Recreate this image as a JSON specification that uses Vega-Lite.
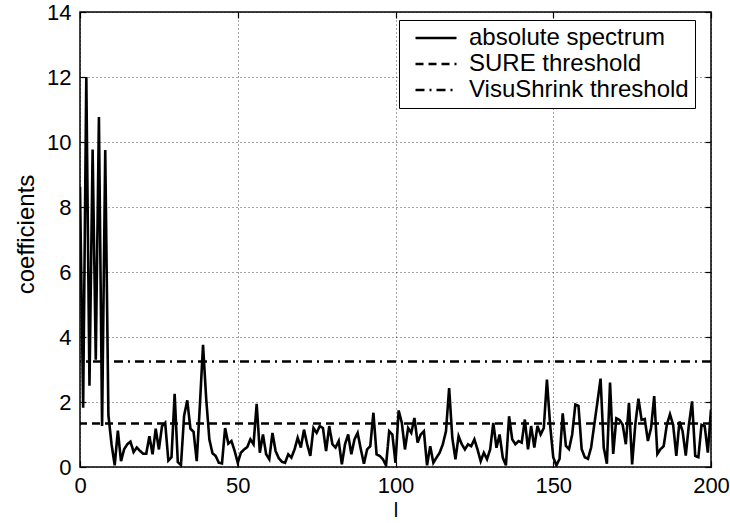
{
  "$schema": "https://vega.github.io/schema/vega-lite/v6.json",
  "width": 631,
  "height": 455,
  "autosize": {"type": "none"},
  "padding": {"left": 80, "top": 12, "right": 19, "bottom": 56},
  "background": "white",
  "datasets": {
    "spectrum": [
      {"l":0,"coefficient":8.62},{"l":1,"coefficient":1.82},{"l":2,"coefficient":12.0},{"l":3,"coefficient":2.5},{"l":4,"coefficient":9.77},
      {"l":5,"coefficient":3.3},{"l":6,"coefficient":10.77},{"l":7,"coefficient":1.26},{"l":8,"coefficient":9.75},{"l":9,"coefficient":1.6},
      {"l":10,"coefficient":0.7},{"l":11,"coefficient":0.05},{"l":12,"coefficient":1.12},{"l":13,"coefficient":0.18},{"l":14,"coefficient":0.55},
      {"l":15,"coefficient":0.7},{"l":16,"coefficient":0.78},{"l":17,"coefficient":0.46},{"l":18,"coefficient":0.6},{"l":19,"coefficient":0.5},
      {"l":20,"coefficient":0.41},{"l":21,"coefficient":0.41},{"l":22,"coefficient":0.95},{"l":23,"coefficient":0.39},{"l":24,"coefficient":1.18},
      {"l":25,"coefficient":0.54},{"l":26,"coefficient":1.26},{"l":27,"coefficient":1.36},{"l":28,"coefficient":0.2},{"l":29,"coefficient":0.3},
      {"l":30,"coefficient":2.25},{"l":31,"coefficient":0.15},{"l":32,"coefficient":0.06},{"l":33,"coefficient":1.58},{"l":34,"coefficient":2.05},
      {"l":35,"coefficient":1.18},{"l":36,"coefficient":1.08},{"l":37,"coefficient":0.18},{"l":38,"coefficient":1.9},{"l":39,"coefficient":3.76},
      {"l":40,"coefficient":2.1},{"l":41,"coefficient":0.85},{"l":42,"coefficient":0.42},{"l":43,"coefficient":0.34},{"l":44,"coefficient":0.13},
      {"l":45,"coefficient":0.11},{"l":46,"coefficient":1.2},{"l":47,"coefficient":0.72},{"l":48,"coefficient":0.8},{"l":49,"coefficient":0.5},
      {"l":50,"coefficient":0.13},{"l":51,"coefficient":0.44},{"l":52,"coefficient":0.54},{"l":53,"coefficient":0.61},{"l":54,"coefficient":0.85},
      {"l":55,"coefficient":0.7},{"l":56,"coefficient":1.94},{"l":57,"coefficient":0.44},{"l":58,"coefficient":1.0},{"l":59,"coefficient":0.39},
      {"l":60,"coefficient":0.24},{"l":61,"coefficient":1.05},{"l":62,"coefficient":0.49},{"l":63,"coefficient":0.27},{"l":64,"coefficient":0.16},
      {"l":65,"coefficient":0.13},{"l":66,"coefficient":0.39},{"l":67,"coefficient":0.29},{"l":68,"coefficient":0.54},{"l":69,"coefficient":0.9},
      {"l":70,"coefficient":0.6},{"l":71,"coefficient":1.15},{"l":72,"coefficient":0.7},{"l":73,"coefficient":0.34},{"l":74,"coefficient":1.2},
      {"l":75,"coefficient":1.05},{"l":76,"coefficient":1.26},{"l":77,"coefficient":1.2},{"l":78,"coefficient":0.49},{"l":79,"coefficient":1.26},
      {"l":80,"coefficient":0.7},{"l":81,"coefficient":0.6},{"l":82,"coefficient":0.8},{"l":83,"coefficient":0.08},{"l":84,"coefficient":0.7},
      {"l":85,"coefficient":1.0},{"l":86,"coefficient":0.39},{"l":87,"coefficient":0.85},{"l":88,"coefficient":1.05},{"l":89,"coefficient":0.55},
      {"l":90,"coefficient":0.1},{"l":91,"coefficient":0.54},{"l":92,"coefficient":0.64},{"l":93,"coefficient":1.67},{"l":94,"coefficient":0.39},
      {"l":95,"coefficient":0.34},{"l":96,"coefficient":0.24},{"l":97,"coefficient":0.05},{"l":98,"coefficient":1.1},{"l":99,"coefficient":1.0},
      {"l":100,"coefficient":0.13},{"l":101,"coefficient":1.74},{"l":102,"coefficient":1.36},{"l":103,"coefficient":0.54},{"l":104,"coefficient":1.2},
      {"l":105,"coefficient":1.05},{"l":106,"coefficient":1.51},{"l":107,"coefficient":0.75},{"l":108,"coefficient":1.0},{"l":109,"coefficient":1.1},
      {"l":110,"coefficient":0.05},{"l":111,"coefficient":0.64},{"l":112,"coefficient":0.13},{"l":113,"coefficient":0.29},{"l":114,"coefficient":0.44},
      {"l":115,"coefficient":0.7},{"l":116,"coefficient":1.1},{"l":117,"coefficient":2.43},{"l":118,"coefficient":0.9},{"l":119,"coefficient":0.24},
      {"l":120,"coefficient":0.95},{"l":121,"coefficient":0.7},{"l":122,"coefficient":0.54},{"l":123,"coefficient":0.7},{"l":124,"coefficient":0.64},
      {"l":125,"coefficient":0.85},{"l":126,"coefficient":0.54},{"l":127,"coefficient":0.18},{"l":128,"coefficient":0.44},{"l":129,"coefficient":0.24},
      {"l":130,"coefficient":0.54},{"l":131,"coefficient":1.36},{"l":132,"coefficient":0.59},{"l":133,"coefficient":1.0},{"l":134,"coefficient":0.29},
      {"l":135,"coefficient":0.05},{"l":136,"coefficient":1.56},{"l":137,"coefficient":0.85},{"l":138,"coefficient":0.7},{"l":139,"coefficient":0.8},
      {"l":140,"coefficient":0.75},{"l":141,"coefficient":1.46},{"l":142,"coefficient":0.54},{"l":143,"coefficient":1.26},{"l":144,"coefficient":0.6},
      {"l":145,"coefficient":1.26},{"l":146,"coefficient":1.0},{"l":147,"coefficient":1.2},{"l":148,"coefficient":2.69},{"l":149,"coefficient":1.3},
      {"l":150,"coefficient":0.3},{"l":151,"coefficient":0.05},{"l":152,"coefficient":0.25},{"l":153,"coefficient":1.65},{"l":154,"coefficient":0.65},
      {"l":155,"coefficient":0.55},{"l":156,"coefficient":1.0},{"l":157,"coefficient":1.92},{"l":158,"coefficient":1.88},{"l":159,"coefficient":0.55},
      {"l":160,"coefficient":0.3},{"l":161,"coefficient":0.25},{"l":162,"coefficient":0.6},{"l":163,"coefficient":1.3},{"l":164,"coefficient":2.0},
      {"l":165,"coefficient":2.72},{"l":166,"coefficient":0.6},{"l":167,"coefficient":0.1},{"l":168,"coefficient":2.6},{"l":169,"coefficient":0.4},
      {"l":170,"coefficient":1.5},{"l":171,"coefficient":1.45},{"l":172,"coefficient":1.3},{"l":173,"coefficient":0.7},{"l":174,"coefficient":1.97},
      {"l":175,"coefficient":0.08},{"l":176,"coefficient":1.3},{"l":177,"coefficient":2.1},{"l":178,"coefficient":1.45},{"l":179,"coefficient":1.48},
      {"l":180,"coefficient":0.8},{"l":181,"coefficient":1.2},{"l":182,"coefficient":2.18},{"l":183,"coefficient":0.4},{"l":184,"coefficient":0.55},
      {"l":185,"coefficient":0.64},{"l":186,"coefficient":1.3},{"l":187,"coefficient":1.62},{"l":188,"coefficient":1.3},{"l":189,"coefficient":0.34},
      {"l":190,"coefficient":1.4},{"l":191,"coefficient":1.1},{"l":192,"coefficient":0.35},{"l":193,"coefficient":1.3},{"l":194,"coefficient":2.02},
      {"l":195,"coefficient":0.34},{"l":196,"coefficient":0.3},{"l":197,"coefficient":1.3},{"l":198,"coefficient":1.26},{"l":199,"coefficient":0.44},
      {"l":200,"coefficient":1.77}
    ],
    "thresholds": [
      {"name": "SURE threshold", "value": 1.34},
      {"name": "VisuShrink threshold", "value": 3.25}
    ]
  },
  "layer": [
    {
      "data": {"name": "spectrum"},
      "mark": {"type": "line", "color": "black", "strokeWidth": 2.6, "strokeJoin": "miter", "clip": true},
      "encoding": {
        "x": {
          "field": "l", "type": "quantitative",
          "scale": {"domain": [0, 200], "nice": false, "zero": false},
          "axis": {
            "orient": "bottom", "values": [0, 50, 100, 150, 200],
            "tickSize": -6, "labelPadding": 14, "labelFlush": false,
            "grid": true, "title": "l", "titleFontSize": 20, "titleY": 33, "titleBaseline": "top"
          }
        },
        "y": {
          "field": "coefficient", "type": "quantitative",
          "scale": {"domain": [0, 14], "nice": false},
          "axis": {
            "orient": "left", "values": [0, 2, 4, 6, 8, 10, 12, 14],
            "tickSize": -6, "labelPadding": 15, "labelFlush": false,
            "grid": true, "title": "coefficients", "titleX": -42, "titleY": 222
          }
        },
        "strokeDash": {
          "datum": "absolute spectrum", "type": "nominal",
          "scale": {
            "domain": ["absolute spectrum", "SURE threshold", "VisuShrink threshold"],
            "range": [[1, 0], [8, 5], [9, 5, 2, 5]]
          },
          "legend": {
            "orient": "none", "legendX": 319, "legendY": 8,
            "title": null, "symbolType": "stroke", "symbolSize": 1681,
            "symbolStrokeWidth": 2.5, "symbolStrokeColor": "black",
            "symbolOffset": 9, "labelOffset": 11, "clipHeight": 24, "rowPadding": 2,
            "padding": 6, "labelFontSize": 24, "labelLimit": 400,
            "strokeColor": "black", "fillColor": "white"
          }
        }
      }
    },
    {
      "data": {"name": "thresholds"},
      "mark": {"type": "rule", "color": "black", "strokeWidth": 2.5},
      "encoding": {
        "y": {"field": "value", "type": "quantitative", "axis": null},
        "strokeDash": {
          "field": "name", "type": "nominal",
          "legend": {
            "orient": "none", "legendX": 319, "legendY": 8,
            "title": null, "symbolType": "stroke", "symbolSize": 1681,
            "symbolStrokeWidth": 2.5, "symbolStrokeColor": "black",
            "symbolOffset": 9, "labelOffset": 11, "clipHeight": 24, "rowPadding": 2,
            "padding": 6, "labelFontSize": 24, "labelLimit": 400,
            "strokeColor": "black", "fillColor": "white"
          }
        }
      }
    },
    {
      "data": {"name": "spectrum"},
      "mark": {"type": "line", "strokeOpacity": 0},
      "encoding": {
        "x": {
          "field": "l", "type": "quantitative",
          "axis": {"orient": "top", "values": [0, 50, 100, 150, 200], "tickSize": -6, "labels": false, "grid": false, "title": null}
        },
        "y": {
          "field": "coefficient", "type": "quantitative",
          "axis": {"orient": "right", "values": [0, 2, 4, 6, 8, 10, 12, 14], "tickSize": -6, "labels": false, "grid": false, "title": null}
        }
      }
    }
  ],
  "config": {
    "font": "Liberation Sans",
    "view": {"stroke": "black", "strokeWidth": 1.5},
    "axis": {
      "domain": false,
      "tickColor": "black", "tickWidth": 1.2,
      "labelColor": "black", "labelFontSize": 22, "labelFont": "Liberation Sans", "labelOverlap": false,
      "gridColor": "black", "gridDash": [1, 3], "gridOpacity": 0.7, "gridWidth": 1,
      "titleColor": "black", "titleFontSize": 24, "titleFontWeight": "normal", "titleFont": "Liberation Sans"
    },
    "legend": {"labelColor": "black", "labelFont": "Liberation Sans"}
  }
}
